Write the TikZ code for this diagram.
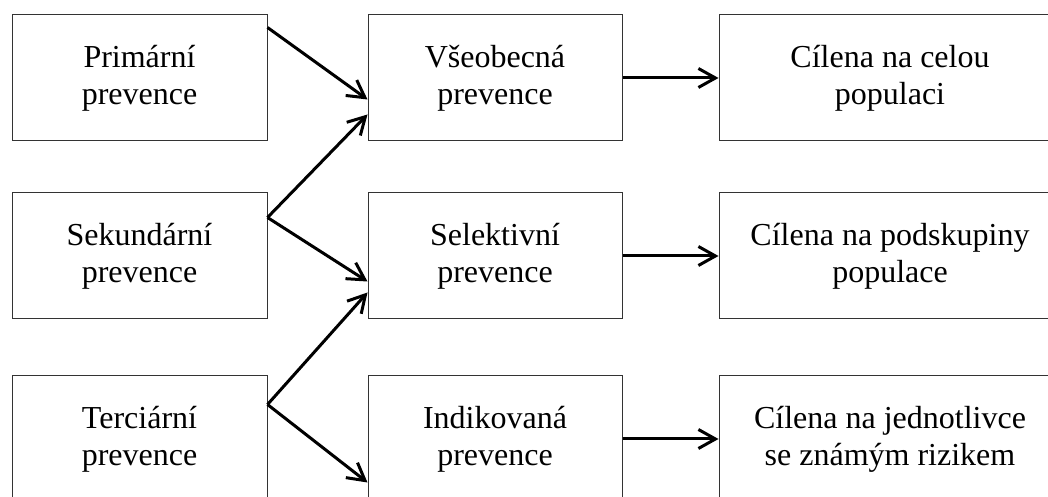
\documentclass[tikz,border=0pt]{standalone}
\usepackage{fontspec}
\setmainfont{Liberation Serif}
\usetikzlibrary{arrows.meta}

\begin{document}
\begin{tikzpicture}[x=1pt,y=1pt,
    box/.style={draw=black!80, line width=1pt, inner sep=0pt, align=center,
      minimum height=126pt, font=\fontsize{32}{37}\selectfont},
    arr/.style={line width=3pt, -{Straight Barb[length=17pt,width=19pt]}}]
    \useasboundingbox (0,0) rectangle (1048,497);
    % levy sloupec
    \node[box, minimum width=255pt] (prim) at (139.5,419) {Primární\\prevence};
    \node[box, minimum width=255pt] (sek)  at (139.5,241) {Sekundární\\prevence};
    \node[box, minimum width=255pt] (terc) at (139.5,58)  {Terciární\\prevence};
    % prostredni sloupec
    \node[box, minimum width=254pt] (vseob) at (495,419) {Všeobecná\\prevence};
    \node[box, minimum width=254pt] (selek) at (495,241) {Selektivní\\prevence};
    \node[box, minimum width=254pt] (indik) at (495,58)  {Indikovaná\\prevence};
    % pravy sloupec
    \node[box, minimum width=342pt] (celou) at (890,419) {Cílena na celou\\populaci};
    \node[box, minimum width=342pt] (podsk) at (890,241) {Cílena na podskupiny\\populace};
    \node[box, minimum width=342pt] (jedno) at (890,58)  {Cílena na jednotlivce\\se známým rizikem};
    % sipky
    \draw[arr] ([yshift=-13pt]prim.north east) -- ([yshift=-85pt]vseob.north west);
    \draw[arr] ([yshift=-25pt]sek.north east)  -- ([yshift=-100pt]vseob.north west);
    \draw[arr] ([yshift=-25pt]sek.north east)  -- ([yshift=-89pt]selek.north west);
    \draw[arr] ([yshift=-29pt]terc.north east) -- ([yshift=-100pt]selek.north west);
    \draw[arr] ([yshift=-29pt]terc.north east) -- ([yshift=-107pt]indik.north west);
    \draw[arr] (vseob.east) -- (celou.west);
    \draw[arr] (selek.east) -- (podsk.west);
    \draw[arr] (indik.east) -- (jedno.west);
\end{tikzpicture}
\end{document}
